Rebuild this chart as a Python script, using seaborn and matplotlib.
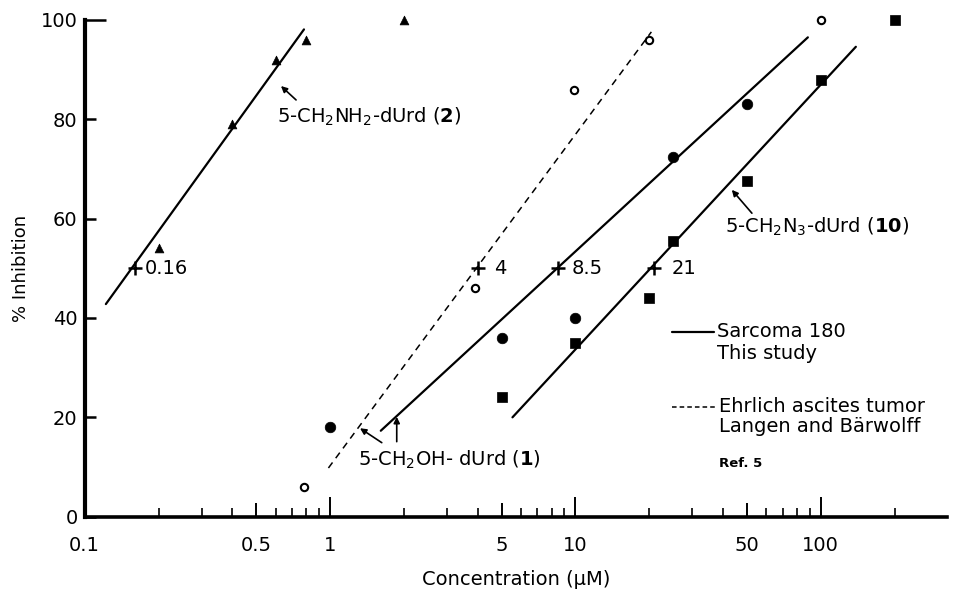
import matplotlib
matplotlib.use('Agg')
import matplotlib.pyplot as plt
import seaborn as sns
import pandas as pd
from matplotlib.ticker import FixedLocator, FixedFormatter, NullFormatter

# ---------------- data ----------------
nh2_conc = [0.2, 0.4, 0.6, 0.8, 2.0]            # 5-CH2NH2-dUrd (triangles)
nh2_inhib = [54, 79, 92, 96, 100]
oh_conc = [1, 5, 10, 25, 50]                    # 5-CH2OH-dUrd, Sarcoma 180 (filled circles)
oh_inhib = [18, 36, 40, 72.5, 83]
n3_conc = [5, 10, 20, 25, 50, 100, 200]         # 5-CH2N3-dUrd (filled squares)
n3_inhib = [24, 35, 44, 55.5, 67.5, 88, 100]
ehr_conc = [0.78, 3.9, 9.9, 20, 100]            # Ehrlich ascites, Langen & Baerwolff (open circles)
ehr_inhib = [6, 46, 86, 96, 100]

# fitted lines (end points)
nh2_line_x = [0.122, 0.783]
nh2_line_y = [42.8, 98.1]
oh_line_x = [1.61, 88.6]
oh_line_y = [17.3, 96.5]
n3_line_x = [5.54, 139]
n3_line_y = [20.0, 94.6]
ehr_line_x = [0.985, 20.4]
ehr_line_y = [9.8, 97.6]

# IC50 marks
ic50_conc = [0.16, 4, 8.5, 21]
ic50_inhib = [50, 50, 50, 50]
ic50_labels = ['0.16', '4', '8.5', '21']

# axis ticks
x_major = [0.1, 0.5, 1, 5, 10, 50, 100]
x_major_labels = ['0.1', '0.5', '1', '5', '10', '50', '100']
x_minor = [0.2, 0.3, 0.4, 0.6, 0.7, 0.8, 0.9,
           2, 3, 4, 6, 7, 8, 9,
           20, 30, 40, 60, 70, 80, 90, 200]
y_ticks = [0, 20, 40, 60, 80, 100]

# ---------------- styling / layout ----------------
sns.set_style('ticks')
plt.rcParams['font.family'] = ['DejaVu Sans']
plt.rcParams['mathtext.fontset'] = 'dejavusans'
plt.rcParams['text.color'] = 'black'
plt.rcParams['axes.labelcolor'] = 'black'
plt.rcParams['xtick.color'] = 'black'
plt.rcParams['ytick.color'] = 'black'
plt.rcParams['axes.edgecolor'] = 'black'
FS = 14

fig = plt.figure(figsize=(9.71, 5.89), dpi=100)
ax = fig.add_axes([0.0872, 0.1228, 0.8881, 0.8433])
ax.set_xscale('log')

K = 'black'
line_kw = dict(color=K, linewidth=1.6, estimator=None, sort=False, ax=ax)
sns.lineplot(x=nh2_line_x, y=nh2_line_y, **line_kw)
sns.lineplot(x=oh_line_x, y=oh_line_y, **line_kw)
sns.lineplot(x=n3_line_x, y=n3_line_y, **line_kw)
sns.lineplot(x=ehr_line_x, y=ehr_line_y, color=K, linewidth=1.1,
             linestyle=(0, (4.5, 3.5)), estimator=None, sort=False, ax=ax)

sc_kw = dict(ax=ax, clip_on=False, zorder=4, legend=False)
sns.scatterplot(x=nh2_conc, y=nh2_inhib, marker='^', s=40, color=K,
                edgecolor=K, linewidth=0.5, **sc_kw)
sns.scatterplot(x=oh_conc, y=oh_inhib, marker='o', s=58, color=K,
                edgecolor=K, linewidth=0.5, **sc_kw)
sns.scatterplot(x=n3_conc, y=n3_inhib, marker='s', s=50, color=K,
                edgecolor=K, linewidth=0.5, **sc_kw)
sns.scatterplot(x=ehr_conc, y=ehr_inhib, marker='o', s=28, color='white',
                edgecolor=K, linewidth=1.5, **sc_kw)
sns.scatterplot(x=ic50_conc, y=ic50_inhib, marker='+', s=110, color=K,
                linewidth=1.8, **sc_kw)

ic50_offsets = [7, 12, 10, 12]
for xc, yc, lab, off in zip(ic50_conc, ic50_inhib, ic50_labels, ic50_offsets):
    ax.annotate(lab, (xc, yc), xytext=(off, 0), textcoords='offset points',
                ha='left', va='center', fontsize=FS)

# compound labels with arrows
arr = dict(arrowstyle='-|>', color=K, lw=1.2, mutation_scale=9,
           shrinkA=0, shrinkB=0)
ax.text(0.606, 80.4, r'5-CH$_2$NH$_2$-dUrd ($\mathbf{2}$)', fontsize=FS,
        ha='left', va='center')
ax.annotate('', xy=(0.631, 86.7), xytext=(0.727, 83.9), arrowprops=arr)

ax.text(1.304, 11.4, r'5-CH$_2$OH- dUrd ($\mathbf{1}$)', fontsize=FS,
        ha='left', va='center')
ax.annotate('', xy=(1.325, 17.8), xytext=(1.625, 14.9), arrowprops=arr)
ax.annotate('', xy=(1.87, 20.1), xytext=(1.87, 15.1), arrowprops=arr)

ax.text(40.8, 58.4, r'5-CH$_2$N$_3$-dUrd ($\mathbf{10}$)', fontsize=FS,
        ha='left', va='center')
ax.annotate('', xy=(43.4, 65.8), xytext=(52.4, 61.1), arrowprops=arr)

# legend-like key (axes coordinates)
T = ax.transAxes
ax.plot([0.681, 0.730], [0.3725, 0.3725], color=K, lw=1.6, transform=T)
ax.text(0.7336, 0.3725, 'Sarcoma 180', transform=T, fontsize=FS, va='center')
ax.text(0.7336, 0.329, 'This study', transform=T, fontsize=FS, va='center')
ax.plot([0.681, 0.733], [0.2215, 0.2215], color=K, lw=1.1,
        linestyle=(0, (3, 2)), transform=T)
ax.text(0.7356, 0.2215, 'Ehrlich ascites tumor', transform=T, fontsize=FS,
        va='center')
ax.text(0.7356, 0.181, 'Langen and Bärwolff', transform=T, fontsize=FS,
        va='center')
ax.text(0.7356, 0.1075, 'Ref. 5', transform=T, fontsize=9.5,
        fontweight='bold', va='center')

# axes
ax.set_xlim(0.1, 327)
ax.set_ylim(0, 100)
for s in ['top', 'right']:
    ax.spines[s].set_visible(False)
ax.spines['left'].set_linewidth(3.0)
ax.spines['bottom'].set_linewidth(2.6)

ax.xaxis.set_major_locator(FixedLocator(x_major))
ax.xaxis.set_major_formatter(FixedFormatter(x_major_labels))
ax.xaxis.set_minor_locator(FixedLocator(x_minor))
ax.xaxis.set_minor_formatter(NullFormatter())
ax.yaxis.set_major_locator(FixedLocator(y_ticks))
ax.yaxis.set_minor_locator(FixedLocator([]))

ax.tick_params(axis='x', which='major', direction='in', length=14,
               width=1.4, pad=14, labelsize=FS, color=K, labelcolor=K)
ax.tick_params(axis='x', which='minor', direction='in', length=6.5,
               width=1.2, color=K)
ax.tick_params(axis='y', which='major', direction='in', length=8,
               width=1.8, pad=5, labelsize=FS, color=K, labelcolor=K)

ax.set_xlabel('Concentration (µM)', fontsize=FS, labelpad=11)
ax.set_ylabel('% Inhibition', fontsize=13, labelpad=8)

# individual tick lengths: 0.5/5/50 medium, 1/10/100 long, 0.1 none
xlen = {0.1: 0, 0.5: 10, 1: 14.4, 5: 10, 10: 14.4, 50: 10, 100: 14.4}
for tick, v in zip(ax.xaxis.get_major_ticks(), x_major):
    tick.tick1line.set_markersize(xlen[v])
for tick, v in zip(ax.yaxis.get_major_ticks(), y_ticks):
    if v == 100:
        tick.tick1line.set_markersize(15)

fig.savefig('out.png', dpi=100)
